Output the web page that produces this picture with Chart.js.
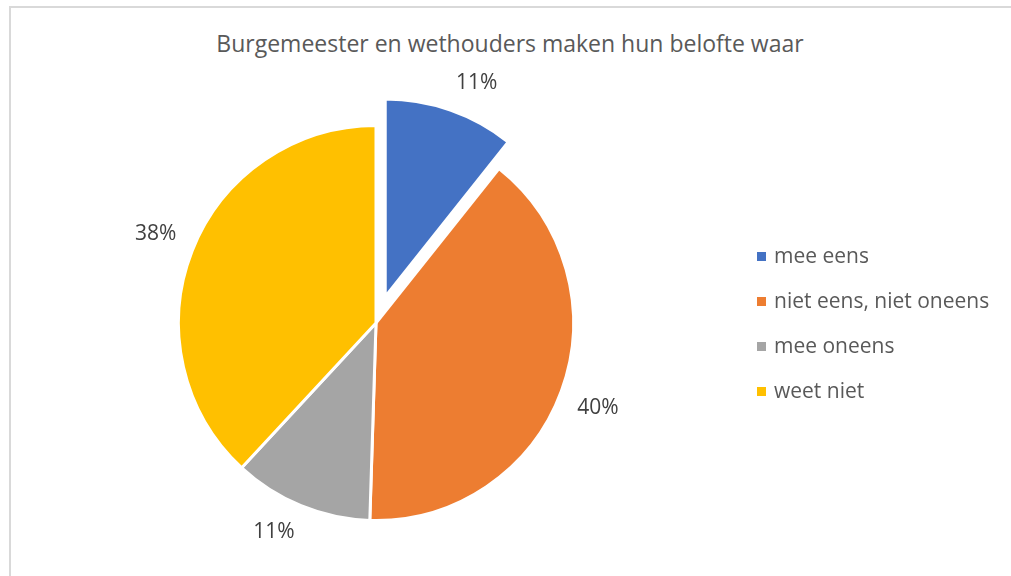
<!DOCTYPE html>
<html>
<head>
<meta charset="utf-8">
<script src="https://cdn.jsdelivr.net/npm/chart.js@4"></script>
<style>
  html, body { margin: 0; padding: 0; background: #fff; overflow: hidden; }
  body { width: 1011px; height: 576px; position: relative; font-family: "Open Sans", sans-serif; }
  #frame { position: absolute; left: 9px; top: 6px; width: 1100px; height: 700px; border: 2px solid #d9d9d9; box-sizing: border-box; }
  #title { position: absolute; left: 9px; width: 1002px; top: 27px; text-align: center; font-size: 23px; color: #595959; }
  #cv { position: absolute; left: 0; top: 0; }
  #legend { position: absolute; left: 757px; top: 240px; font-size: 21px; color: #595959; }
  #legend div { height: 45px; line-height: 30px; white-space: nowrap; }
  #legend span { display: inline-block; width: 9px; height: 9px; margin-right: 8px; vertical-align: 2px; }
</style>
</head>
<body>
<div id="frame"></div>
<div id="title">Burgemeester en wethouders maken hun belofte waar</div>
<canvas id="cv" width="1011" height="620"></canvas>
<div id="legend"></div>
<script>
//jshint esversion: 11

let categories = ["mee eens", "niet eens, niet oneens", "mee oneens", "weet niet"];
let shares = [10.7, 39.8, 11.4, 38.1];
let colors = ["#4472C4", "#ED7D31", "#A5A5A5", "#FFC000"];
let explode = [28, 0, 0, 0]; // px the slice is pulled out

// html legend
let legend = document.querySelector('#legend');
categories.forEach((c, i) => {
  let row = document.createElement('div');
  row.innerHTML = `<span style="background:${colors[i]}"></span>${c}`;
  legend.appendChild(row);
});

// chart.js' own offset also grows the radius, so just shift the slice instead
let explodeSlices = {
  id: "explodeSlices",
  afterDatasetUpdate(chart) {
    chart.getDatasetMeta(0).data.forEach((arc, i) => {
      if (!explode[i] || arc._exploded) return;
      let orig = arc.draw.bind(arc);
      arc.draw = ctx => {
        let mid = (arc.startAngle + arc.endAngle) / 2;
        ctx.save();
        ctx.translate(Math.cos(mid) * explode[i], Math.sin(mid) * explode[i]);
        orig(ctx);
        ctx.restore();
      };
      arc._exploded = true;
    });
  }
};

// percent labels outside each slice, box corner anchored like excel does
let outsideLabels = {
  id: "outsideLabels",
  afterDatasetsDraw(chart) {
    let ctx = chart.ctx;
    let meta = chart.getDatasetMeta(0);
    ctx.save();
    ctx.font = '21px "Open Sans"';
    ctx.fillStyle = "#404040";
    ctx.textBaseline = "middle";
    meta.data.forEach((arc, i) => {
      let p = arc.getProps(["x", "y", "startAngle", "endAngle", "outerRadius"], true);
      let mid = (p.startAngle + p.endAngle) / 2;
      let r = p.outerRadius + explode[i] + 17;
      let cx = Math.cos(mid), cy = Math.sin(mid);
      ctx.textAlign = cx >= 0 ? "left" : "right";
      ctx.fillText(Math.round(shares[i]) + "%", p.x + cx * r, p.y + cy * r + (cy >= 0 ? 11 : -11));
    });
    ctx.restore();
  }
};

new Chart(document.querySelector('#cv'), {
  type: "pie",
  data: {
    labels: categories,
    datasets: [{
      data: shares,
      backgroundColor: colors,
      borderColor: "#fff",
      borderWidth: 3,
      hoverOffset: 0
    }]
  },
  options: {
    responsive: false,
    animation: false,
    layout: { padding: { left: 177, right: 436, top: 124, bottom: 98 } },
    plugins: {
      legend: { display: false },
      title: { display: false },
      tooltip: { enabled: false }
    }
  },
  plugins: [explodeSlices, outsideLabels]
});
</script>
</body>
</html>
